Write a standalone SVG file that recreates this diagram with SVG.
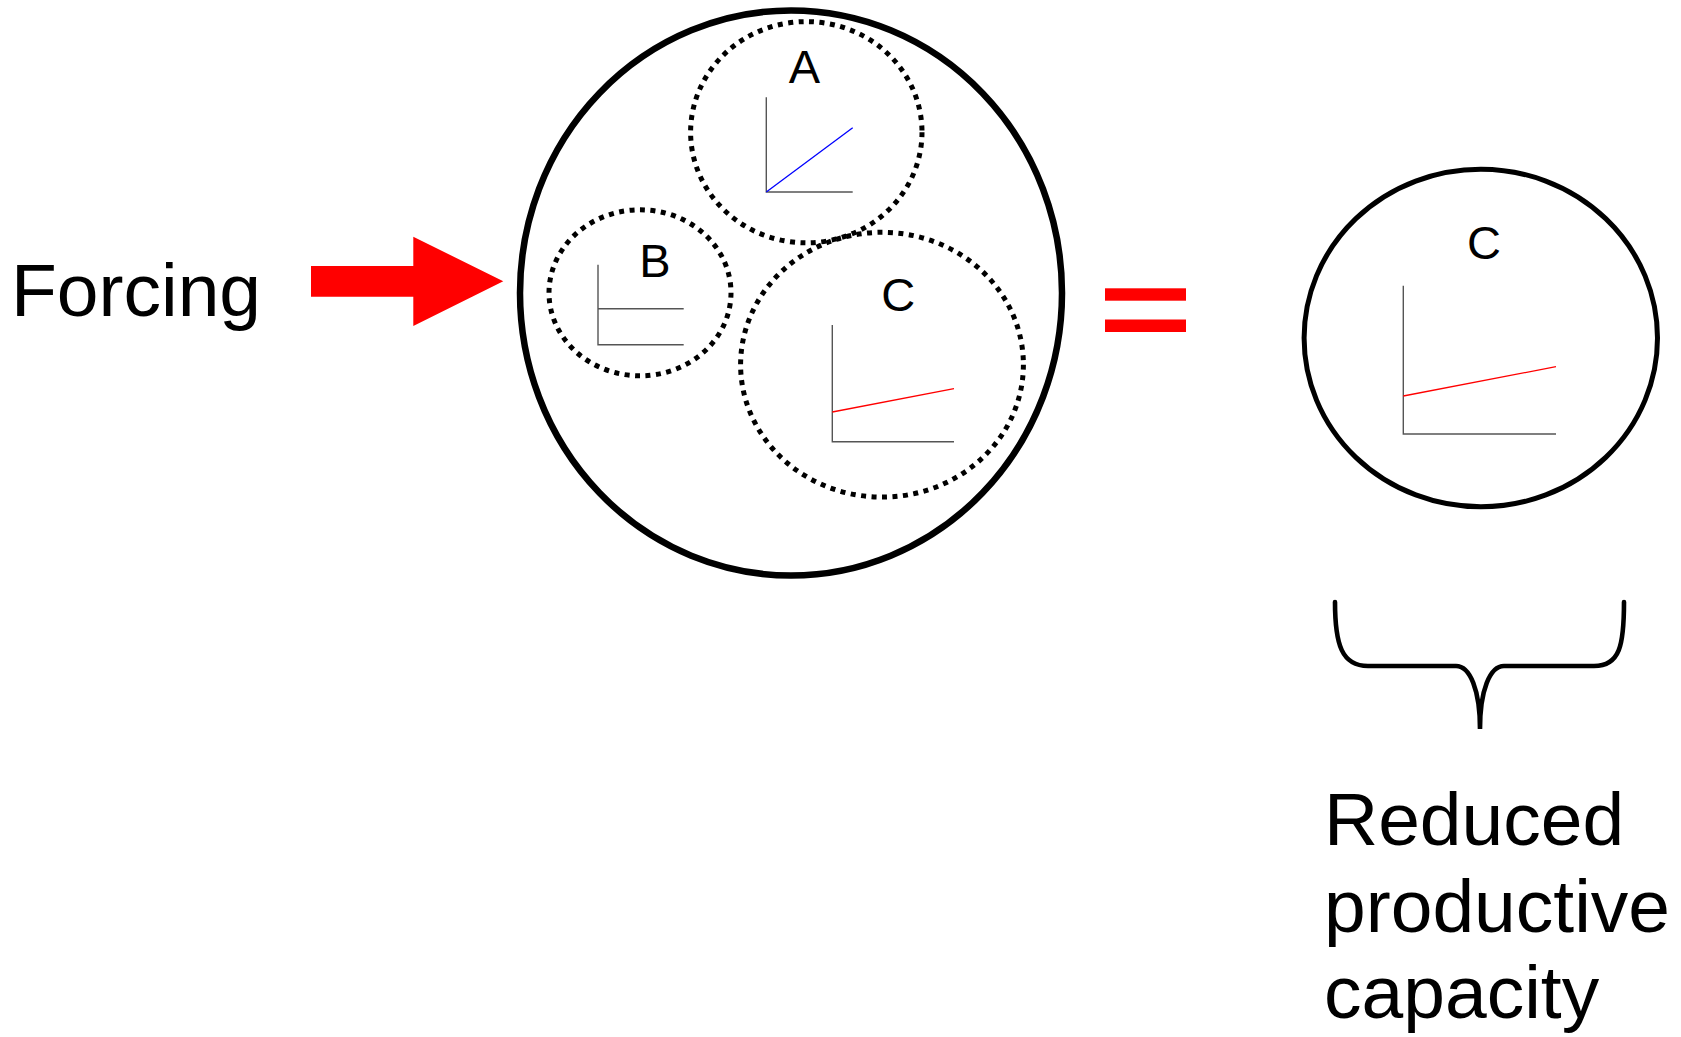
<svg xmlns="http://www.w3.org/2000/svg" width="1681" height="1037" viewBox="0 0 1681 1037">
<style>
.txt{font-family:"Liberation Sans",Arial,sans-serif;fill:#000}
.big{font-size:75px}
.lbl{font-size:47px;text-anchor:middle}
.solid{fill:none;stroke:#000}
.dot{fill:none;stroke:#000;stroke-width:5;stroke-dasharray:5 5.5}
.axis{fill:none;stroke:#555;stroke-width:1.4}
</style>
<rect width="1681" height="1037" fill="#fff"/>
<g id="forcing-label"><text class="txt big" x="11" y="316">Forcing</text></g>
<g id="connectors">
<polygon id="forcing-arrow" points="311,266 413.3,266 413.3,236.7 503.3,281.3 413.3,326 413.3,296.7 311,296.7" fill="#ff0000"/>
</g>
<g id="system">
<ellipse class="solid" cx="791" cy="293" rx="271" ry="282.5" stroke-width="6.5"/>
</g>
<g id="node-A">
<ellipse class="dot" cx="806.3" cy="132.2" rx="115.7" ry="110.6"/>
<text class="txt lbl" x="804.5" y="83">A</text>
<polyline class="axis" points="766.3,97.3 766.3,192 852.7,192"/>
<line x1="766.3" y1="192" x2="852.7" y2="127.7" stroke="#0000ff" stroke-width="1.3"/>
</g>
<g id="node-B">
<ellipse class="dot" cx="640" cy="292.8" rx="91" ry="83"/>
<text class="txt lbl" x="655" y="277">B</text>
<polyline class="axis" points="598,264.7 598,344.7 683.7,344.7"/>
<line class="axis" x1="598" y1="308.7" x2="683.7" y2="308.7"/>
</g>
<g id="node-C">
<ellipse class="dot" cx="882" cy="364.7" rx="141.4" ry="132.4"/>
<text class="txt lbl" x="898.3" y="311">C</text>
<polyline class="axis" points="832.3,325 832.3,441.7 954,441.7"/>
<line x1="832.3" y1="412" x2="954" y2="388.7" stroke="#ff0000" stroke-width="1.3"/>
</g>
<g id="equals" fill="#ff0000">
<rect x="1105" y="288.3" width="81" height="12.4"/>
<rect x="1105" y="319.5" width="81" height="12.5"/>
</g>
<g id="node-C-result">
<ellipse class="solid" cx="1480.8" cy="338" rx="176.7" ry="168.8" stroke-width="5"/>
<text class="txt lbl" x="1484" y="259">C</text>
<polyline class="axis" points="1403.3,285.7 1403.3,434 1556,434"/>
<line x1="1403.3" y1="396" x2="1556" y2="366.7" stroke="#ff0000" stroke-width="1.3"/>
</g>
<g id="brace">
<path class="solid" stroke-width="4.6" stroke-linecap="round" d="M1335,602 C1335,645 1342,666 1368,666 L1456,666 C1470,666 1480,690 1480,729 C1480,690 1490,666 1504,666 L1594,666 C1620,666 1624,645 1624,602"/>
</g>
<g id="result-label">
<text class="txt big" x="1324" y="845">Reduced</text>
<text class="txt big" x="1324" y="932">productive</text>
<text class="txt big" x="1324" y="1018">capacity</text>
</g>
</svg>
